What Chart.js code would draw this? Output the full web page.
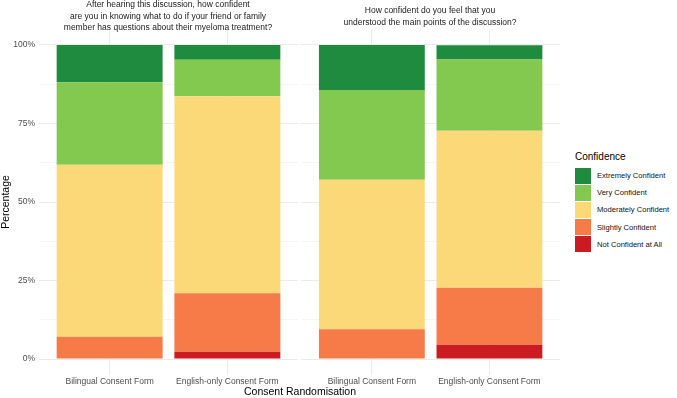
<!DOCTYPE html>
<html>
<head>
<meta charset="utf-8">
<script src="https://cdn.jsdelivr.net/npm/chart.js@4.4.1/dist/chart.umd.min.js"></script>
<style>
  body { margin: 0; background: #fff; font-family: "Liberation Sans", Arial, sans-serif; }
  #wrap { position: relative; width: 677px; height: 398px; overflow: hidden; background: #fff; }
  canvas { position: absolute; top: 0; }
  #panelA { left: 0; }
  #panelB { left: 300px; }
  .strip { position: absolute; text-align: center; font-size: 8.5px; line-height: 11.6px; color: #1a1a1a; white-space: nowrap; }
  #stripA { left: 39px; width: 258px; top: -1px; }
  #stripB { left: 301px; width: 258px; top: 5px; }
  #xTitle { position: absolute; left: 39px; width: 522px; top: 385px; text-align: center; font-size: 10.5px; color: #000; }
  #legend { position: absolute; left: 575px; top: 150px; }
  #legend .lt { font-size: 10px; color: #000; height: 17px; line-height: 14px; }
  #legend .row { display: flex; align-items: center; height: 17.2px; }
  #legend .sw { width: 16px; height: 16px; }
  #legend .lab { font-size: 7.6px; color: #111; padding-left: 6px; }
</style>
</head>
<body>
<div id="wrap">
  <canvas id="panelA" width="298" height="398"></canvas>
  <canvas id="panelB" width="260" height="398"></canvas>
  <div class="strip" id="stripA"></div>
  <div class="strip" id="stripB"></div>
  <div id="xTitle">Consent Randomisation</div>
  <div id="legend"><div class="lt">Confidence</div><div id="keys"></div></div>
</div>
<script>
// categories and legend levels (top of stack first, as in the legend)
const forms = ["Bilingual Consent Form", "English-only Consent Form"];
const levels = ["Extremely Confident", "Very Confident", "Moderately Confident", "Slightly Confident", "Not Confident at All"];
const levelColours = ["#1f8b3f", "#84c94f", "#fbd878", "#f77b48", "#ca1b20"];

const q1Title = ["After hearing this discussion, how confident",
                 "are you in knowing what to do if your friend or family",
                 "member has questions about their myeloma treatment?"];
const q2Title = ["How confident do you feel that you",
                 "understood the main points of the discussion?"];

// percentages, [bilingual, english-only]
const q1Extremely = [11.9, 4.7];
const q1Very = [26.2, 11.6];
const q1Moderate = [54.8, 62.8];
const q1Slightly = [7.1, 18.6];
const q1NotAtAll = [0, 2.3];

const q2Extremely = [14.3, 4.5];
const q2Very = [28.6, 22.7];
const q2Moderate = [47.6, 50.0];
const q2Slightly = [9.5, 18.2];
const q2NotAtAll = [0, 4.5];

const yTicks = [0, 12.5, 25, 37.5, 50, 62.5, 75, 87.5, 100];

Chart.defaults.font.family = '"Liberation Sans", Arial, sans-serif';

document.getElementById("stripA").innerHTML = q1Title.join("<br>");
document.getElementById("stripB").innerHTML = q2Title.join("<br>");

const keys = document.getElementById("keys");
levels.forEach((lvl, i) => {
  const row = document.createElement("div");
  row.className = "row";
  row.innerHTML = '<div class="sw" style="background:' + levelColours[i] + '"></div><div class="lab">' + lvl + '</div>';
  keys.appendChild(row);
});

function panelConfig(series, showY) {
  // stack from the bottom: last legend level first
  const datasets = levels.map((lvl, i) => ({
    label: lvl,
    data: series[i].map((v, j) => ({ x: j + 1, y: v })),
    backgroundColor: levelColours[i],
    borderWidth: 0,
    categoryPercentage: 0.9,
    barPercentage: 1,
  })).reverse();

  return {
    type: "bar",
    data: { datasets: datasets },
    options: {
      responsive: false,
      animation: false,
      devicePixelRatio: 1,
      layout: { padding: { top: 29.3, left: 0, right: 0, bottom: 0 } },
      scales: {
        x: {
          type: "linear",
          min: 0.4,
          max: 2.6,
          offset: false,
          stacked: true,
          afterBuildTicks: (s) => { s.ticks = [{ value: 1 }, { value: 2 }]; },
          afterFit: (s) => { s.height = 23.3; },
          ticks: {
            callback: (v) => forms[v - 1],
            color: "#4d4d4d",
            font: { size: 8.5 },
            padding: 2,
            maxRotation: 0,
            autoSkip: false,
          },
          grid: { color: "#ebebeb", lineWidth: 1, drawTicks: false, offset: false },
          border: { display: false },
        },
        y: {
          min: -5,
          max: 105,
          stacked: true,
          afterBuildTicks: (s) => { s.ticks = yTicks.map((v) => ({ value: v })); },
          afterFit: (s) => { s.width = showY ? 39 : 1.3; },
          ticks: {
            display: showY,
            callback: (v) => (v % 25 === 0 ? v + "%" : ""),
            color: "#4d4d4d",
            font: { size: 8.5 },
            padding: 4,
          },
          grid: {
            color: "#ebebeb",
            lineWidth: (ctx) => (ctx.tick && ctx.tick.value % 25 === 0 ? 1 : 0.5),
            drawTicks: false,
          },
          border: { display: false },
          title: {
            display: showY,
            text: "Percentage",
            color: "#000",
            font: { size: 10.5 },
            padding: 0,
          },
        },
      },
      plugins: {
        legend: { display: false },
        tooltip: { enabled: false },
      },
    },
  };
}

const chartA = new Chart(document.getElementById("panelA"),
  panelConfig([q1Extremely, q1Very, q1Moderate, q1Slightly, q1NotAtAll], true));
const chartB = new Chart(document.getElementById("panelB"),
  panelConfig([q2Extremely, q2Very, q2Moderate, q2Slightly, q2NotAtAll], false));
</script>
</body>
</html>
